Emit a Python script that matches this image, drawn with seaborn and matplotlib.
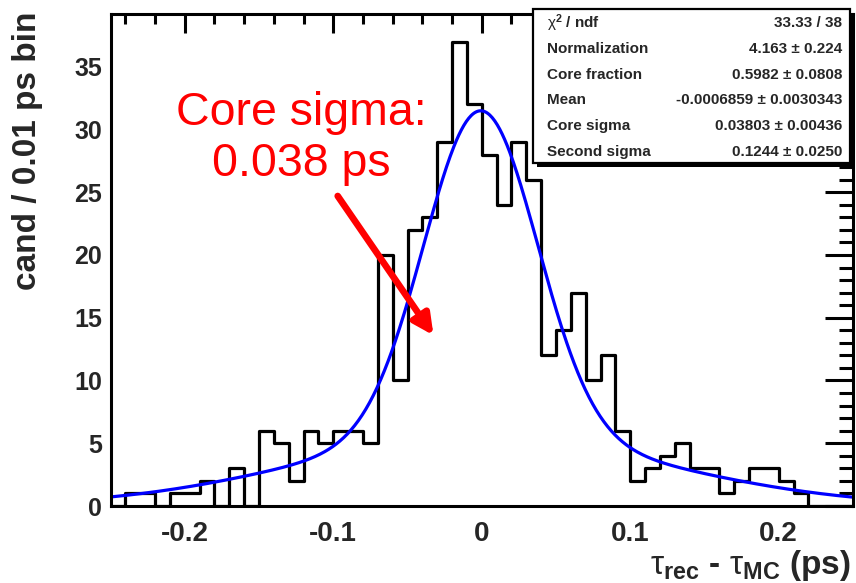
import numpy as np
import pandas as pd
import matplotlib
matplotlib.use("Agg")
import matplotlib.pyplot as plt
from matplotlib.patches import Rectangle
from matplotlib.ticker import MultipleLocator, FuncFormatter
import seaborn as sns

# Lifetime residual histogram: 50 bins of 0.01 ps from -0.25 to 0.25 ps
bin_width = 0.01
bin_range = (-0.25, 0.25)
counts = [0, 1, 1, 0, 1, 1, 2, 0, 3, 0,
          6, 5, 2, 6, 5, 6, 6, 5, 20, 10,
          22, 23, 29, 37, 32, 28, 24, 29, 26, 12,
          14, 17, 10, 12, 6, 2, 3, 4, 5, 3,
          3, 1, 2, 3, 3, 2, 1, 0, 0, 0]

# Double-Gaussian fit results
fit_norm = 4.163
fit_core_frac = 0.5982
fit_mean = -0.0006859
fit_core_sigma = 0.03803
fit_second_sigma = 0.1244

stat_names = [r"$\mathrm{\chi}^{\mathbf{2}}$ / ndf", "Normalization", "Core fraction",
              "Mean", "Core sigma", "Second sigma"]
stat_values = ["33.33 / 38", "4.163 \u00b1 0.224", "0.5982 \u00b1 0.0808",
               "-0.0006859 \u00b1 0.0030343", "0.03803 \u00b1 0.00436",
               "0.1244 \u00b1 0.0250"]

sns.set_theme(style="white")
plt.rcParams["font.family"] = ["Liberation Sans", "DejaVu Sans"]
plt.rcParams["mathtext.fontset"] = "custom"
plt.rcParams["mathtext.rm"] = "Liberation Sans"
plt.rcParams["mathtext.bf"] = "Liberation Sans:bold"
plt.rcParams["mathtext.it"] = "Liberation Sans:italic"
plt.rcParams["mathtext.sf"] = "Liberation Sans"

W, H = 856, 583
fig = plt.figure(figsize=(W / 100, H / 100), dpi=100)
fig.patch.set_facecolor("white")
ax = fig.add_axes([110.5 / W, 1 - 506 / H, (853 - 110.5) / W, (506 - 14) / H])
ax.set_facecolor("white")

n_bins = len(counts)
centers = bin_range[0] + bin_width * (np.arange(n_bins) + 0.5)
hist_df = pd.DataFrame({"dt": centers, "n": counts})
sns.histplot(data=hist_df, x="dt", weights="n", binwidth=bin_width, binrange=bin_range,
             element="step", fill=False, color="black", linewidth=2.3, ax=ax)

# Fitted curve: normalization times a two-component Gaussian density
xs = np.linspace(bin_range[0], bin_range[1], 600)
def gauss(x, mu, s):
    return np.exp(-0.5 * ((x - mu) / s) ** 2) / (np.sqrt(2 * np.pi) * s)
ys = fit_norm * (fit_core_frac * gauss(xs, fit_mean, fit_core_sigma)
                 + (1 - fit_core_frac) * gauss(xs, fit_mean, fit_second_sigma))
fit_df = pd.DataFrame({"dt": xs, "f": ys})
sns.lineplot(data=fit_df, x="dt", y="f", color="#0000ff", linewidth=2.3, ax=ax)

ax.set_xlim(*bin_range)
ax.set_ylim(0, 39.2)
ax.set_xlabel("")
ax.set_ylabel("")

ax.xaxis.set_major_locator(MultipleLocator(0.1))
ax.xaxis.set_minor_locator(MultipleLocator(0.02))
ax.yaxis.set_major_locator(MultipleLocator(5))
ax.yaxis.set_minor_locator(MultipleLocator(1))
ax.xaxis.set_major_formatter(FuncFormatter(lambda v, p: f"{v:g}" if abs(v) > 1e-9 else "0"))
ax.tick_params(axis="both", which="both", direction="in", top=True, right=True,
               color="black", width=2.2)
ax.tick_params(axis="x", which="major", length=14, pad=11, labelsize=20)
ax.tick_params(axis="x", which="minor", length=7)
ax.tick_params(axis="y", which="major", length=20, pad=6, labelsize=18)
ax.tick_params(axis="y", which="minor", length=10)
for lab in ax.get_xticklabels() + ax.get_yticklabels():
    lab.set_fontweight("bold")
for sp in ax.spines.values():
    sp.set_visible(True)
    sp.set_color("black")
    sp.set_linewidth(2.2)

# Annotation of the core resolution
ax.text(-0.1217, 30.35, "Core sigma:", color="red", fontsize=33.5, ha="center", va="baseline")
ax.text(-0.1217, 26.28, "0.038 ps", color="red", fontsize=33.5, ha="center", va="baseline")
ax.annotate("", xy=(-0.0325, 13.6), xytext=(-0.097, 24.7),
            arrowprops=dict(arrowstyle="-|>", color="red", lw=4.8,
                            mutation_scale=30, shrinkA=0, shrinkB=0))

# Axis titles
fig.text(28 / W, 1 - 12 / H, "cand / 0.01 ps bin", rotation=90, ha="center", va="top",
         fontsize=24, fontweight="bold")
fig.text(851 / W, 1 - 574 / H,
         r"$\mathrm{\tau}_{\mathbf{rec}}$ - $\mathrm{\tau}_{\mathbf{MC}}$ (ps)",
         ha="right", va="baseline", fontsize=24, fontweight="bold")

# Fit statistics box with drop shadow
bx0, by0, bx1, by1 = 533, 9, 850, 163
fig.add_artist(Rectangle(((bx0 + 4) / W, 1 - (by1 + 4) / H), (bx1 - bx0) / W, (by1 - by0) / H,
                         transform=fig.transFigure, facecolor="black", edgecolor="none", zorder=5))
fig.add_artist(Rectangle((bx0 / W, 1 - by1 / H), (bx1 - bx0) / W, (by1 - by0) / H,
                         transform=fig.transFigure, facecolor="white", edgecolor="black",
                         linewidth=1.6, zorder=6))
row_y = [23, 49, 75, 100, 126, 152]
for name, val, yy in zip(stat_names, stat_values, row_y):
    fig.text(547 / W, 1 - yy / H, name, ha="left", va="center", fontsize=11,
             fontweight="bold", zorder=7)
    fig.text(842 / W, 1 - yy / H, val, ha="right", va="center", fontsize=11,
             fontweight="bold", zorder=7)

fig.savefig("out.png", dpi=100)
